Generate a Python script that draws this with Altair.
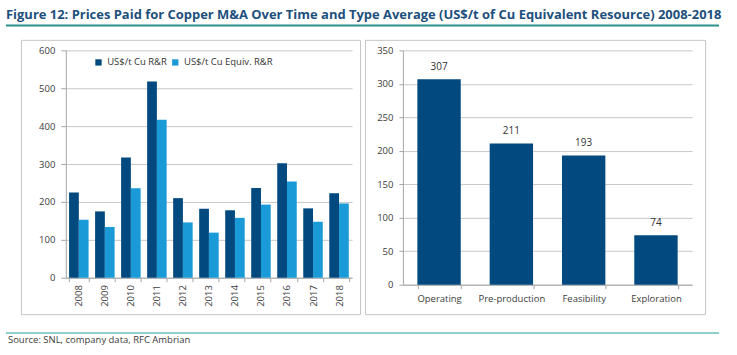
import altair as alt
import pandas as pd

# ---- data ----
years = ["2008", "2009", "2010", "2011", "2012", "2013", "2014", "2015", "2016", "2017", "2018"]
cu_rr = [225, 175, 317, 518, 210, 182, 178, 237, 302, 183, 223]
cu_equiv_rr = [153, 134, 236, 417, 146, 119, 158, 193, 254, 148, 196]
series_names = ["US$/t Cu R&R", "US$/t Cu Equiv. R&R"]
stages = ["Operating", "Pre-production", "Feasibility", "Exploration"]
stage_avg = [307, 211, 193, 74]
y_ticks_left = [0, 100, 200, 300, 400, 500, 600]
y_ticks_right = [0, 50, 100, 150, 200, 250, 300, 350]

title_text = "Figure 12: Prices Paid for Copper M&A Over Time and Type Average (US$/t of Cu Equivalent Resource) 2008-2018"
source_text = "Source: SNL, company data, RFC Ambrian"

DARK = "#01497f"
LIGHT = "#1a9ad6"
FONT = "Open Sans"

left_df = pd.DataFrame({
    "year": years * 2,
    "series": [series_names[0]] * len(years) + [series_names[1]] * len(years),
    "value": cu_rr + cu_equiv_rr,
})
right_df = pd.DataFrame({"stage": stages, "avg": stage_avg})
one = pd.DataFrame({"k": [0]})

# left plot area origin on page: (65, 49.5)
OX, OY = 65, 49.5
W_L, H_L = 287, 228
W_R, H_R = 290, 235

def px(x):
    return x - OX

def py(y):
    return y - OY

anchor = alt.Chart(one).mark_rect(fill="white", opacity=0).encode(
    x=alt.value(px(0)), x2=alt.value(px(737)), y=alt.value(py(0)), y2=alt.value(py(355))
)
border_left = alt.Chart(one).mark_rect(fill="white", fillOpacity=0, stroke="#c6c6c6", strokeWidth=1).encode(
    x=alt.value(px(20.5)), x2=alt.value(px(360.5)), y=alt.value(py(39.5)), y2=alt.value(py(314.5))
)
border_right = alt.Chart(one).mark_rect(fill="white", fillOpacity=0, stroke="#c6c6c6", strokeWidth=1).encode(
    x=alt.value(px(365.5)), x2=alt.value(px(706.5)), y=alt.value(py(39.5)), y2=alt.value(py(314.5))
)
title_mark = alt.Chart(one).mark_text(
    align="left", baseline="alphabetic", font=FONT, fontWeight="bold",
    fontSize=13.0, color="#1d4f7d"
).encode(x=alt.value(px(5)), y=alt.value(py(18)), text=alt.value(title_text))
title_rule = alt.Chart(one).mark_rule(color="#2b8f8b", strokeWidth=2).encode(
    x=alt.value(px(5)), x2=alt.value(px(720)), y=alt.value(py(24.5))
)
foot_rule = alt.Chart(one).mark_rule(color="#8fcfcb", strokeWidth=2).encode(
    x=alt.value(px(5)), x2=alt.value(px(720)), y=alt.value(py(333))
)
source_mark = alt.Chart(one).mark_text(
    align="left", baseline="alphabetic", font=FONT, fontSize=9.5, color="#3a3a3a"
).encode(x=alt.value(px(7)), y=alt.value(py(343)), text=alt.value(source_text))

left_bars = alt.Chart(left_df).mark_bar().encode(
    x=alt.X("year:N", sort=years,
            scale=alt.Scale(paddingInner=0.25, paddingOuter=0.125),
            axis=alt.Axis(title=None, labelAngle=-90, tickBand="extent", tickSize=4,
                          labelPadding=3, grid=False)),
    xOffset=alt.XOffset("series:N", sort=series_names,
                        scale=alt.Scale(domain=series_names, paddingInner=0, paddingOuter=0)),
    y=alt.Y("value:Q", scale=alt.Scale(domain=[0, 600], nice=False),
            axis=alt.Axis(title=None, values=y_ticks_left, tickSize=5, labelPadding=6, grid=True)),
    color=alt.Color("series:N", sort=series_names,
                    scale=alt.Scale(domain=series_names, range=[DARK, LIGHT]),
                    legend=alt.Legend(title=None, orient="none", legendX=28, legendY=7,
                                      direction="horizontal", symbolType="square",
                                      symbolSize=40, symbolStrokeWidth=0, labelFont=FONT,
                                      labelFontSize=9.5, labelColor="#333333",
                                      labelOffset=4, columnPadding=3, padding=0)),
)

left = alt.layer(anchor, border_left, border_right, title_mark, title_rule, foot_rule,
                 source_mark, left_bars).properties(width=W_L, height=H_L)

right_base = alt.Chart(right_df).encode(
    x=alt.X("stage:N", sort=stages,
            scale=alt.Scale(paddingInner=0.4, paddingOuter=0.2),
            axis=alt.Axis(title=None, labelAngle=0, tickBand="extent", tickSize=4,
                          labelPadding=5, grid=False)),
    y=alt.Y("avg:Q", scale=alt.Scale(domain=[0, 350], nice=False),
            axis=alt.Axis(title=None, values=y_ticks_right, tickSize=4, labelPadding=6, grid=True)),
)
right_bars = right_base.mark_bar(color=DARK)
right_text = right_base.mark_text(dy=-12, baseline="middle", font=FONT, fontSize=10,
                                  color="#333333").encode(text=alt.Text("avg:Q"))
right = alt.layer(right_bars, right_text).properties(width=W_R, height=H_R)

chart = alt.hconcat(left, right, spacing=51, bounds="flush").properties(
    padding=0
).configure_view(stroke="transparent").configure_axis(
    labelFont=FONT, labelFontSize=9.5, labelColor="#3c3c3c",
    domainColor="#a6a6a6", tickColor="#a6a6a6", gridColor="#c8c8c8",
    domainWidth=1, tickWidth=1, gridWidth=1
)

chart.save("out.html", embed_options={"renderer": "svg", "actions": False})
